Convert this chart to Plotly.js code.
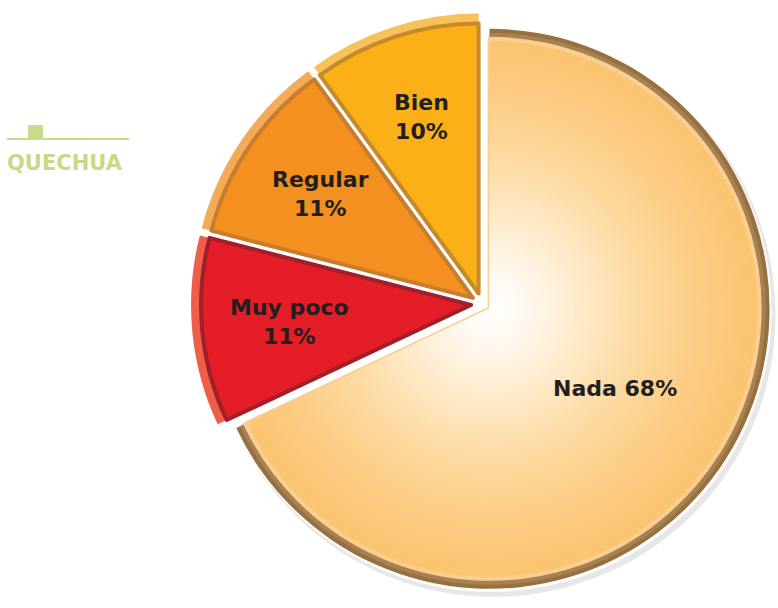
<!DOCTYPE html>
<html>
<head>
<meta charset="utf-8">
<script src="https://cdn.plot.ly/plotly-3.0.1.min.js"></script>
<style>
  html, body { margin: 0; padding: 0; background: #ffffff; }
  #chart { width: 778px; height: 608px; }
</style>
</head>
<body>
<div id="chart"></div>
<script>
// Data
const labels = ['Nada', 'Muy poco', 'Regular', 'Bien'];
const values = [68, 11, 11, 10];
const labelTexts = ['Nada 68%', 'Muy poco<br>11%', 'Regular<br>11%', 'Bien<br>10%'];
const groupLabel = 'QUECHUA';

// Geometry (pixels)
const W = 778, H = 608;
const CX = 482, CY = 304;
const pullPx = [9, 11, 11, 11];   // explode distance per slice
const labelDist = [148, 182, 184, 186];
const R = 280;

const CLEAR = 'rgba(0,0,0,0)';

// one pie layer with a radius in px, the slice apexes stay put
function layer(r, colors, opts) {
    opts = opts || {};
    const dx = opts.dx || 0, dy = opts.dy || 0;
    const keep = opts.keep;
    const pulls = pullPx.map((d, i) => (keep && keep.indexOf(i) < 0) ? 0 : d / r);
    const h = r * (1 + Math.max(...pulls));
    const cx = CX + dx, cy = CY + dy;
    return {
        type: 'pie',
        labels: labels,
        values: values,
        sort: false,
        direction: 'clockwise',
        rotation: 0,
        pull: pulls,
        domain: {
            x: [Math.max(0, (cx - h) / W), Math.min(1, (cx + h) / W)],
            y: [Math.max(0, 1 - (cy + h) / H), Math.min(1, 1 - (cy - h) / H)]
        },
        marker: {
            colors: colors,
            line: { color: opts.lineColors || CLEAR, width: opts.lineWidth || 0 }
        },
        textinfo: 'none',
        hoverinfo: 'skip',
        showlegend: false
    };
}

function hex(c) { return [1, 3, 5].map(k => parseInt(c.slice(k, k + 2), 16)); }
function mix(a, b, t) {
    const A = hex(a), B = hex(b);
    return 'rgb(' + A.map((v, i) => Math.round(v + (B[i] - v) * t)).join(',') + ')';
}

const traces = [];

// soft shadow under the big slice
traces.push(layer(R + 2, ['rgba(120,120,120,0.18)', CLEAR, CLEAR, CLEAR], { keep: [0], dx: 4, dy: 6 }));
traces.push(layer(R + 1, ['#ffffff', CLEAR, CLEAR, CLEAR], { keep: [0], dx: 1, dy: 2 }));

// rim / bevel layer
traces.push(layer(R, ['#98703f', '#ef5e48', '#f3ab58', '#f8c25a']));
traces.push(layer(R - 4, ['#a98150', CLEAR, CLEAR, CLEAR], { keep: [0] }));

// main fill with darker edges
const main = layer(R - 10, ['#fbc470', '#e41d26', '#f3901f', '#fbb017'], {
    lineColors: ['#f8cf92', '#a11f28', '#c97c2b', '#c68a2a'],
    lineWidth: 4
});
main.hoverinfo = 'label+percent';
traces.push(main);

// radial glow on the big slice (colour stops by radius)
const glowStops = [[0, '#ffffff'], [40, '#fff8ee'], [90, '#feebcd'], [150, '#fddba3'], [210, '#fccd86'], [268, '#fbc470']];
for (let r = 264; r >= 6; r -= 5) {
    let k = 0;
    while (k < glowStops.length - 2 && glowStops[k + 1][0] < r) k++;
    const a = glowStops[k], b = glowStops[k + 1];
    const t = Math.min(1, Math.max(0, (r - a[0]) / (b[0] - a[0])));
    traces.push(layer(r, [mix(a[1], b[1], t), CLEAR, CLEAR, CLEAR], { keep: [0] }));
}

// slice labels on each slice's mid angle
const total = values.reduce((s, v) => s + v, 0);
let acc = 0;
const sliceLabels = values.map((v, i) => {
    const mid = (acc + v / 2) / total * 2 * Math.PI;
    acc += v;
    const ax = CX + (pullPx[i] + labelDist[i]) * Math.sin(mid);
    const ay = CY - (pullPx[i] + labelDist[i]) * Math.cos(mid);
    return {
        text: labelTexts[i], xref: 'paper', yref: 'paper', x: ax / W, y: 1 - ay / H,
        xanchor: 'center', yanchor: 'middle', showarrow: false,
        font: { family: 'DejaVu Sans', size: 22, color: '#231f20', weight: 'bold' }
    };
});

const green = '#c9dc8c';
const layout = {
    width: W,
    height: H,
    margin: { t: 0, r: 0, b: 0, l: 0 },
    paper_bgcolor: '#ffffff',
    showlegend: false,
    shapes: [
        { type: 'line', xref: 'paper', yref: 'paper', x0: 7 / W, x1: 129 / W, y0: 1 - 139 / H, y1: 1 - 139 / H,
          line: { color: green, width: 2 } },
        { type: 'rect', xref: 'paper', yref: 'paper', x0: 28 / W, x1: 43 / W, y0: 1 - 139 / H, y1: 1 - 125 / H,
          line: { width: 0 }, fillcolor: green }
    ],
    annotations: [
        { text: groupLabel, xref: 'paper', yref: 'paper', x: 5 / W, y: 1 - 163 / H,
          xanchor: 'left', yanchor: 'middle', showarrow: false,
          font: { family: 'DejaVu Sans', size: 21, color: '#c5d987', weight: 'bold' } }
    ].concat(sliceLabels)
};

Plotly.newPlot('chart', traces, layout, { displayModeBar: false, staticPlot: true });
</script>
</body>
</html>
